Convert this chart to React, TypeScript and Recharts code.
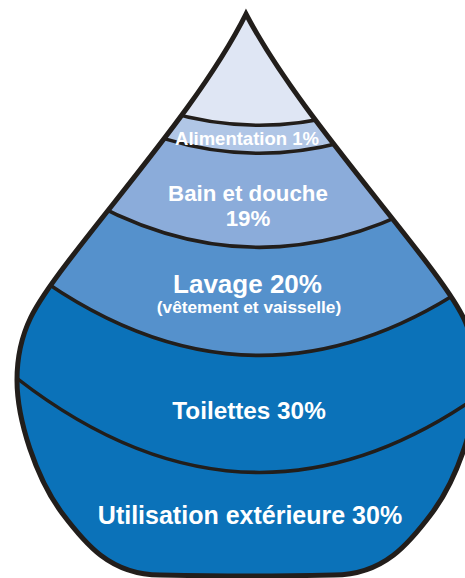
import { BarChart, Bar, XAxis, YAxis } from "recharts";

// bands from the bottom of the drop to the top, in stack order
const usageNames = ["Utilisation extérieure", "Toilettes", "Lavage", "Bain et douche", "Alimentation"];
const usageShares = [30, 30, 20, 19, 1];
const usageNotes = ["", "", "(vêtement et vaisselle)", "", ""];
// depth of each band along the drop's axis, in % of its height (last one is the empty tip)
const bandDepths = [18, 20.9, 19.3, 16.8, 5, 20];
const bandColors = ["#0b72b9", "#0b72b9", "#5591cc", "#8bacda", "#b0c6e6", "#dfe6f4"];

const W = 465;
const H = 578;
const CX = 247;
const K = 0.0016; // curvature of the band edges
const TILT = 0.04;
const X0 = -30;
const X1 = 500;
const INK = "#221e1b";
const FONT = "'Liberation Sans', Arial, sans-serif";

// left half of the drop outline, mirrored around CX for the right half
const leftSide = [
  [246, 14],
  [206, 94, 128, 183, 67, 263],
  [36.6, 303, 17, 330, 17, 380],
  [17, 420, 36, 478, 62, 513],
  [84.5, 543, 110, 575, 160, 575],
  [185, 575.5, 215, 576, 247, 576],
];
const mx = (x: number) => 2 * CX - x;
const dropPath = () => {
  let d = `M${leftSide[0][0]} ${leftSide[0][1]}`;
  for (let i = 1; i < leftSide.length; i++) {
    const s = leftSide[i];
    d += ` C${s[0]} ${s[1]} ${s[2]} ${s[3]} ${s[4]} ${s[5]}`;
  }
  for (let i = leftSide.length - 1; i >= 1; i--) {
    const s = leftSide[i];
    const prev = leftSide[i - 1];
    const px = prev.length === 2 ? prev[0] : prev[4];
    const py = prev.length === 2 ? prev[1] : prev[5];
    d += ` C${mx(s[2])} ${s[3]} ${mx(s[0])} ${s[1]} ${i === 1 ? px : mx(px)} ${py}`;
  }
  return d + " Z";
};
const DROP = dropPath();

const labelStyle = [
  { size: 25, dy: 1.5, dx: 3 },
  { size: 24.3, dy: 5.5, dx: 2 },
  { size: 26, dy: -8.5, dx: 0.5, noteSize: 17.3, noteDy: 11.5 },
  { size: 22.3, dy: 1, dx: 1, split: 25 },
  { size: 18.5, dy: 6, dx: 0 },
];

const row: Record<string, any> = { name: "goutte" };
bandDepths.forEach((v, i) => (row[`b${i}`] = v));
const data = [row];

const edge = (yc: number) => {
  const f = (x: number) => yc - K * (x - CX) ** 2 + TILT * (x - CX);
  const slope = -2 * K * (X0 - CX) + TILT;
  return { y0: f(X0), cx: (X0 + X1) / 2, cy: f(X0) + (slope * (X1 - X0)) / 2, y1: f(X1) };
};

const flat = (y: number) => ({ y0: y, cx: (X0 + X1) / 2, cy: y, y1: y });

const makeBand = (i: number) => (props: any) => {
  const { y, height } = props;
  const top = i === bandDepths.length - 1 ? flat(-10) : edge(y);
  const bot = i === 0 ? flat(H + 20) : edge(y + height);
  const d = `M${X0} ${top.y0} Q${top.cx} ${top.cy} ${X1} ${top.y1} L${X1} ${bot.y1} Q${bot.cx} ${bot.cy} ${X0} ${bot.y0} Z`;
  const mid = y + height / 2;
  const ls = labelStyle[i] as any;
  const clipId = `drop-clip-${i}`;
  return (
    <g>
      <defs>
        <clipPath id={clipId}>
          <path d={DROP} />
        </clipPath>
      </defs>
      <g clipPath={`url(#${clipId})`}>
        <path d={d} fill={bandColors[i]} />
        {i > 0 && (
          <path
            d={`M${X0} ${bot.y0} Q${bot.cx} ${bot.cy} ${X1} ${bot.y1}`}
            fill="none"
            stroke={INK}
            strokeWidth={3.5}
          />
        )}
      </g>
      {ls && (
        <g fontFamily={FONT} fontWeight="bold" fill="#ffffff" textAnchor="middle">
          {ls.split ? (
            <>
              <text x={CX + ls.dx} y={mid + ls.dy} fontSize={ls.size}>
                {usageNames[i]}
              </text>
              <text x={CX + ls.dx} y={mid + ls.dy + ls.split} fontSize={ls.size}>
                {`${usageShares[i]}%`}
              </text>
            </>
          ) : (
            <text x={CX + ls.dx} y={mid + ls.dy} fontSize={ls.size}>
              {`${usageNames[i]} ${usageShares[i]}%`}
            </text>
          )}
          {usageNotes[i] && (
            <text x={CX + ls.dx + 1.5} y={mid + ls.noteDy} fontSize={ls.noteSize}>
              {usageNotes[i]}
            </text>
          )}
        </g>
      )}
      {i === bandDepths.length - 1 && (
        <path d={DROP} fill="none" stroke={INK} strokeWidth={5} strokeLinejoin="miter" strokeMiterlimit={20} />
      )}
    </g>
  );
};

export default function App() {
  return (
    <div style={{ width: W, height: H }}>
      <style>{"body{margin:0}"}</style>
      <BarChart
        width={W}
        height={H}
        data={data}
        margin={{ top: 13, right: 0, bottom: 5, left: 0 }}
        barCategoryGap={0}
      >
        <XAxis dataKey="name" hide />
        <YAxis hide domain={[0, 100]} />
        {bandDepths.map((_, i) => (
          <Bar
            key={i}
            dataKey={`b${i}`}
            stackId="drop"
            shape={makeBand(i)}
            isAnimationActive={false}
          />
        ))}
      </BarChart>
    </div>
  );
}
